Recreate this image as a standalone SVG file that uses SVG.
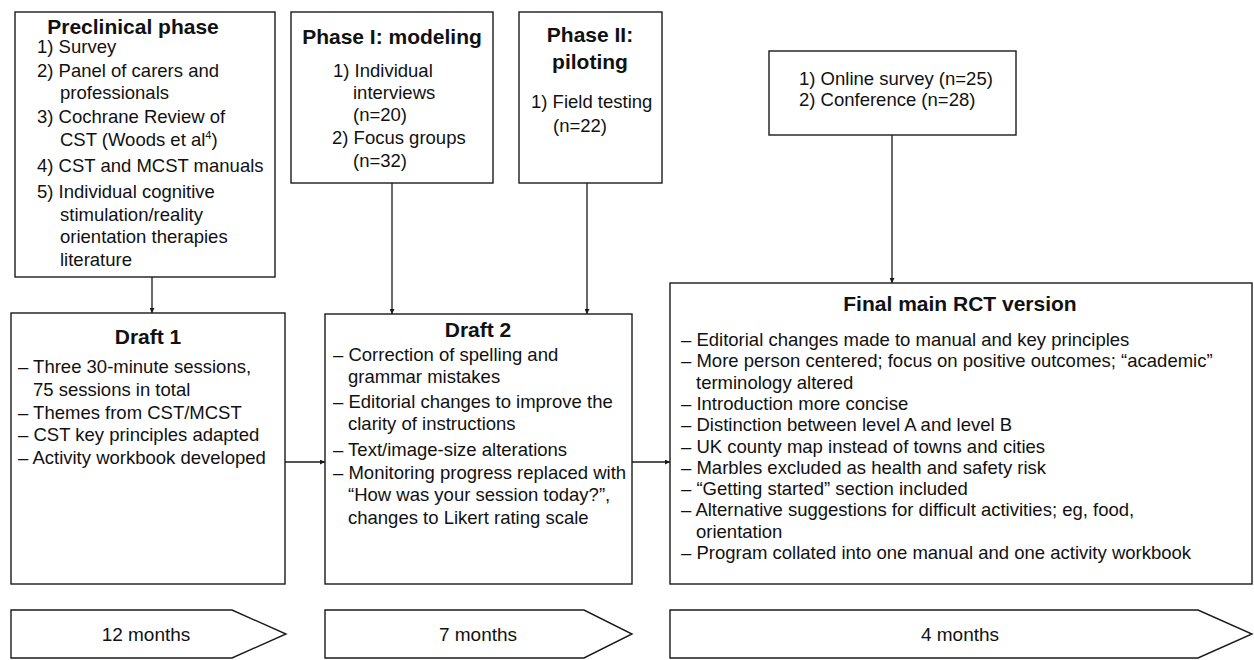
<svg xmlns="http://www.w3.org/2000/svg" width="1254" height="660" viewBox="0 0 1254 660">
<defs>
<style>
.box{fill:#fff;stroke:#1a1a1a;stroke-width:1.4}
.t{font-family:"Liberation Sans",Arial,sans-serif;font-size:18.5px;fill:#111}
.h{font-family:"Liberation Sans",Arial,sans-serif;font-size:21px;font-weight:bold;fill:#111;text-anchor:middle}
.m{font-family:"Liberation Sans",Arial,sans-serif;font-size:19px;fill:#111;text-anchor:middle}
.c{stroke:#1a1a1a;stroke-width:1.3;fill:none;marker-end:url(#ah)}
</style>
<marker id="ah" viewBox="0 0 10 10" refX="10" refY="5" markerWidth="5" markerHeight="5" orient="auto" markerUnits="userSpaceOnUse">
<path d="M0,0 L10,5 L0,10 z" fill="#1a1a1a"/>
</marker>
</defs>
<rect width="1254" height="660" fill="#fff"/>

<g id="preclinical">
<rect class="box" x="15" y="12" width="260" height="265"/>
<text class="h" x="133" y="34">Preclinical phase</text>
<text class="t" x="37" y="53">1) Survey</text>
<text class="t" x="37" y="77">2) Panel of carers and</text>
<text class="t" x="60" y="99">professionals</text>
<text class="t" x="37" y="123">3) Cochrane Review of</text>
<text class="t" x="60" y="146">CST (Woods et al<tspan font-size="11" dy="-7">4</tspan><tspan dy="7">)</tspan></text>
<text class="t" x="37" y="172">4) CST and MCST manuals</text>
<text class="t" x="37" y="198">5) Individual cognitive</text>
<text class="t" x="60" y="221">stimulation/reality</text>
<text class="t" x="60" y="243">orientation therapies</text>
<text class="t" x="60" y="266">literature</text>
</g>

<g id="phase1">
<rect class="box" x="291" y="12" width="202" height="171"/>
<text class="h" x="392" y="44">Phase I: modeling</text>
<text class="t" x="333" y="77">1) Individual</text>
<text class="t" x="353" y="99">interviews</text>
<text class="t" x="353" y="121">(n=20)</text>
<text class="t" x="332" y="144">2) Focus groups</text>
<text class="t" x="353" y="167">(n=32)</text>
</g>

<g id="phase2">
<rect class="box" x="519" y="12" width="143" height="171"/>
<text class="h" x="590" y="42">Phase II:</text>
<text class="h" x="590" y="69">piloting</text>
<text class="t" x="531" y="108">1) Field testing</text>
<text class="t" x="553" y="132">(n=22)</text>
</g>

<g id="online">
<rect class="box" x="769" y="51" width="247" height="84"/>
<text class="t" x="799" y="85">1) Online survey (n=25)</text>
<text class="t" x="799" y="106">2) Conference (n=28)</text>
</g>

<g id="draft1">
<rect class="box" x="11" y="313" width="274" height="271"/>
<text class="h" x="148" y="344">Draft 1</text>
<text class="t" x="18" y="373">– Three 30-minute sessions,</text>
<text class="t" x="33" y="396">75 sessions in total</text>
<text class="t" x="18" y="419">– Themes from CST/MCST</text>
<text class="t" x="18" y="441">– CST key principles adapted</text>
<text class="t" x="18" y="464">– Activity workbook developed</text>
</g>

<g id="draft2">
<rect class="box" x="325" y="314" width="307" height="270"/>
<text class="h" x="478" y="337">Draft 2</text>
<text class="t" x="333" y="361">– Correction of spelling and</text>
<text class="t" x="348" y="383">grammar mistakes</text>
<text class="t" x="333" y="408">– Editorial changes to improve the</text>
<text class="t" x="348" y="430">clarity of instructions</text>
<text class="t" x="333" y="456">– Text/image-size alterations</text>
<text class="t" x="333" y="479">– Monitoring progress replaced with</text>
<text class="t" x="348" y="501">“How was your session today?”,</text>
<text class="t" x="348" y="524">changes to Likert rating scale</text>
</g>

<g id="final">
<rect class="box" x="670" y="283" width="582" height="301"/>
<text class="h" x="960" y="311">Final main RCT version</text>
<text class="t" x="681" y="346">– Editorial changes made to manual and key principles</text>
<text class="t" x="681" y="367">– More person centered; focus on positive outcomes; “academic”</text>
<text class="t" x="696" y="389">terminology altered</text>
<text class="t" x="681" y="410">– Introduction more concise</text>
<text class="t" x="681" y="431">– Distinction between level A and level B</text>
<text class="t" x="681" y="453">– UK county map instead of towns and cities</text>
<text class="t" x="681" y="474">– Marbles excluded as health and safety risk</text>
<text class="t" x="681" y="495">– “Getting started” section included</text>
<text class="t" x="681" y="516">– Alternative suggestions for difficult activities; eg, food,</text>
<text class="t" x="696" y="538">orientation</text>
<text class="t" x="681" y="559">– Program collated into one manual and one activity workbook</text>
</g>

<g id="time1">
<polygon class="box" points="11,610 232,610 286,634 232,658 11,658"/>
<text class="m" x="146" y="641">12 months</text>
</g>
<g id="time2">
<polygon class="box" points="325,610 584,610 632,634 584,658 325,658"/>
<text class="m" x="478" y="641">7 months</text>
</g>
<g id="time3">
<polygon class="box" points="670,610 1198,610 1252,634 1198,658 670,658"/>
<text class="m" x="960" y="641">4 months</text>
</g>

<g id="connectors">
<line class="c" x1="152" y1="277" x2="152" y2="313"/>
<line class="c" x1="392" y1="183" x2="392" y2="314"/>
<line class="c" x1="587" y1="183" x2="587" y2="314"/>
<line class="c" x1="892" y1="135" x2="892" y2="283"/>
<line class="c" x1="285" y1="462" x2="325" y2="462"/>
<line class="c" x1="632" y1="462" x2="670" y2="462"/>
</g>
</svg>
